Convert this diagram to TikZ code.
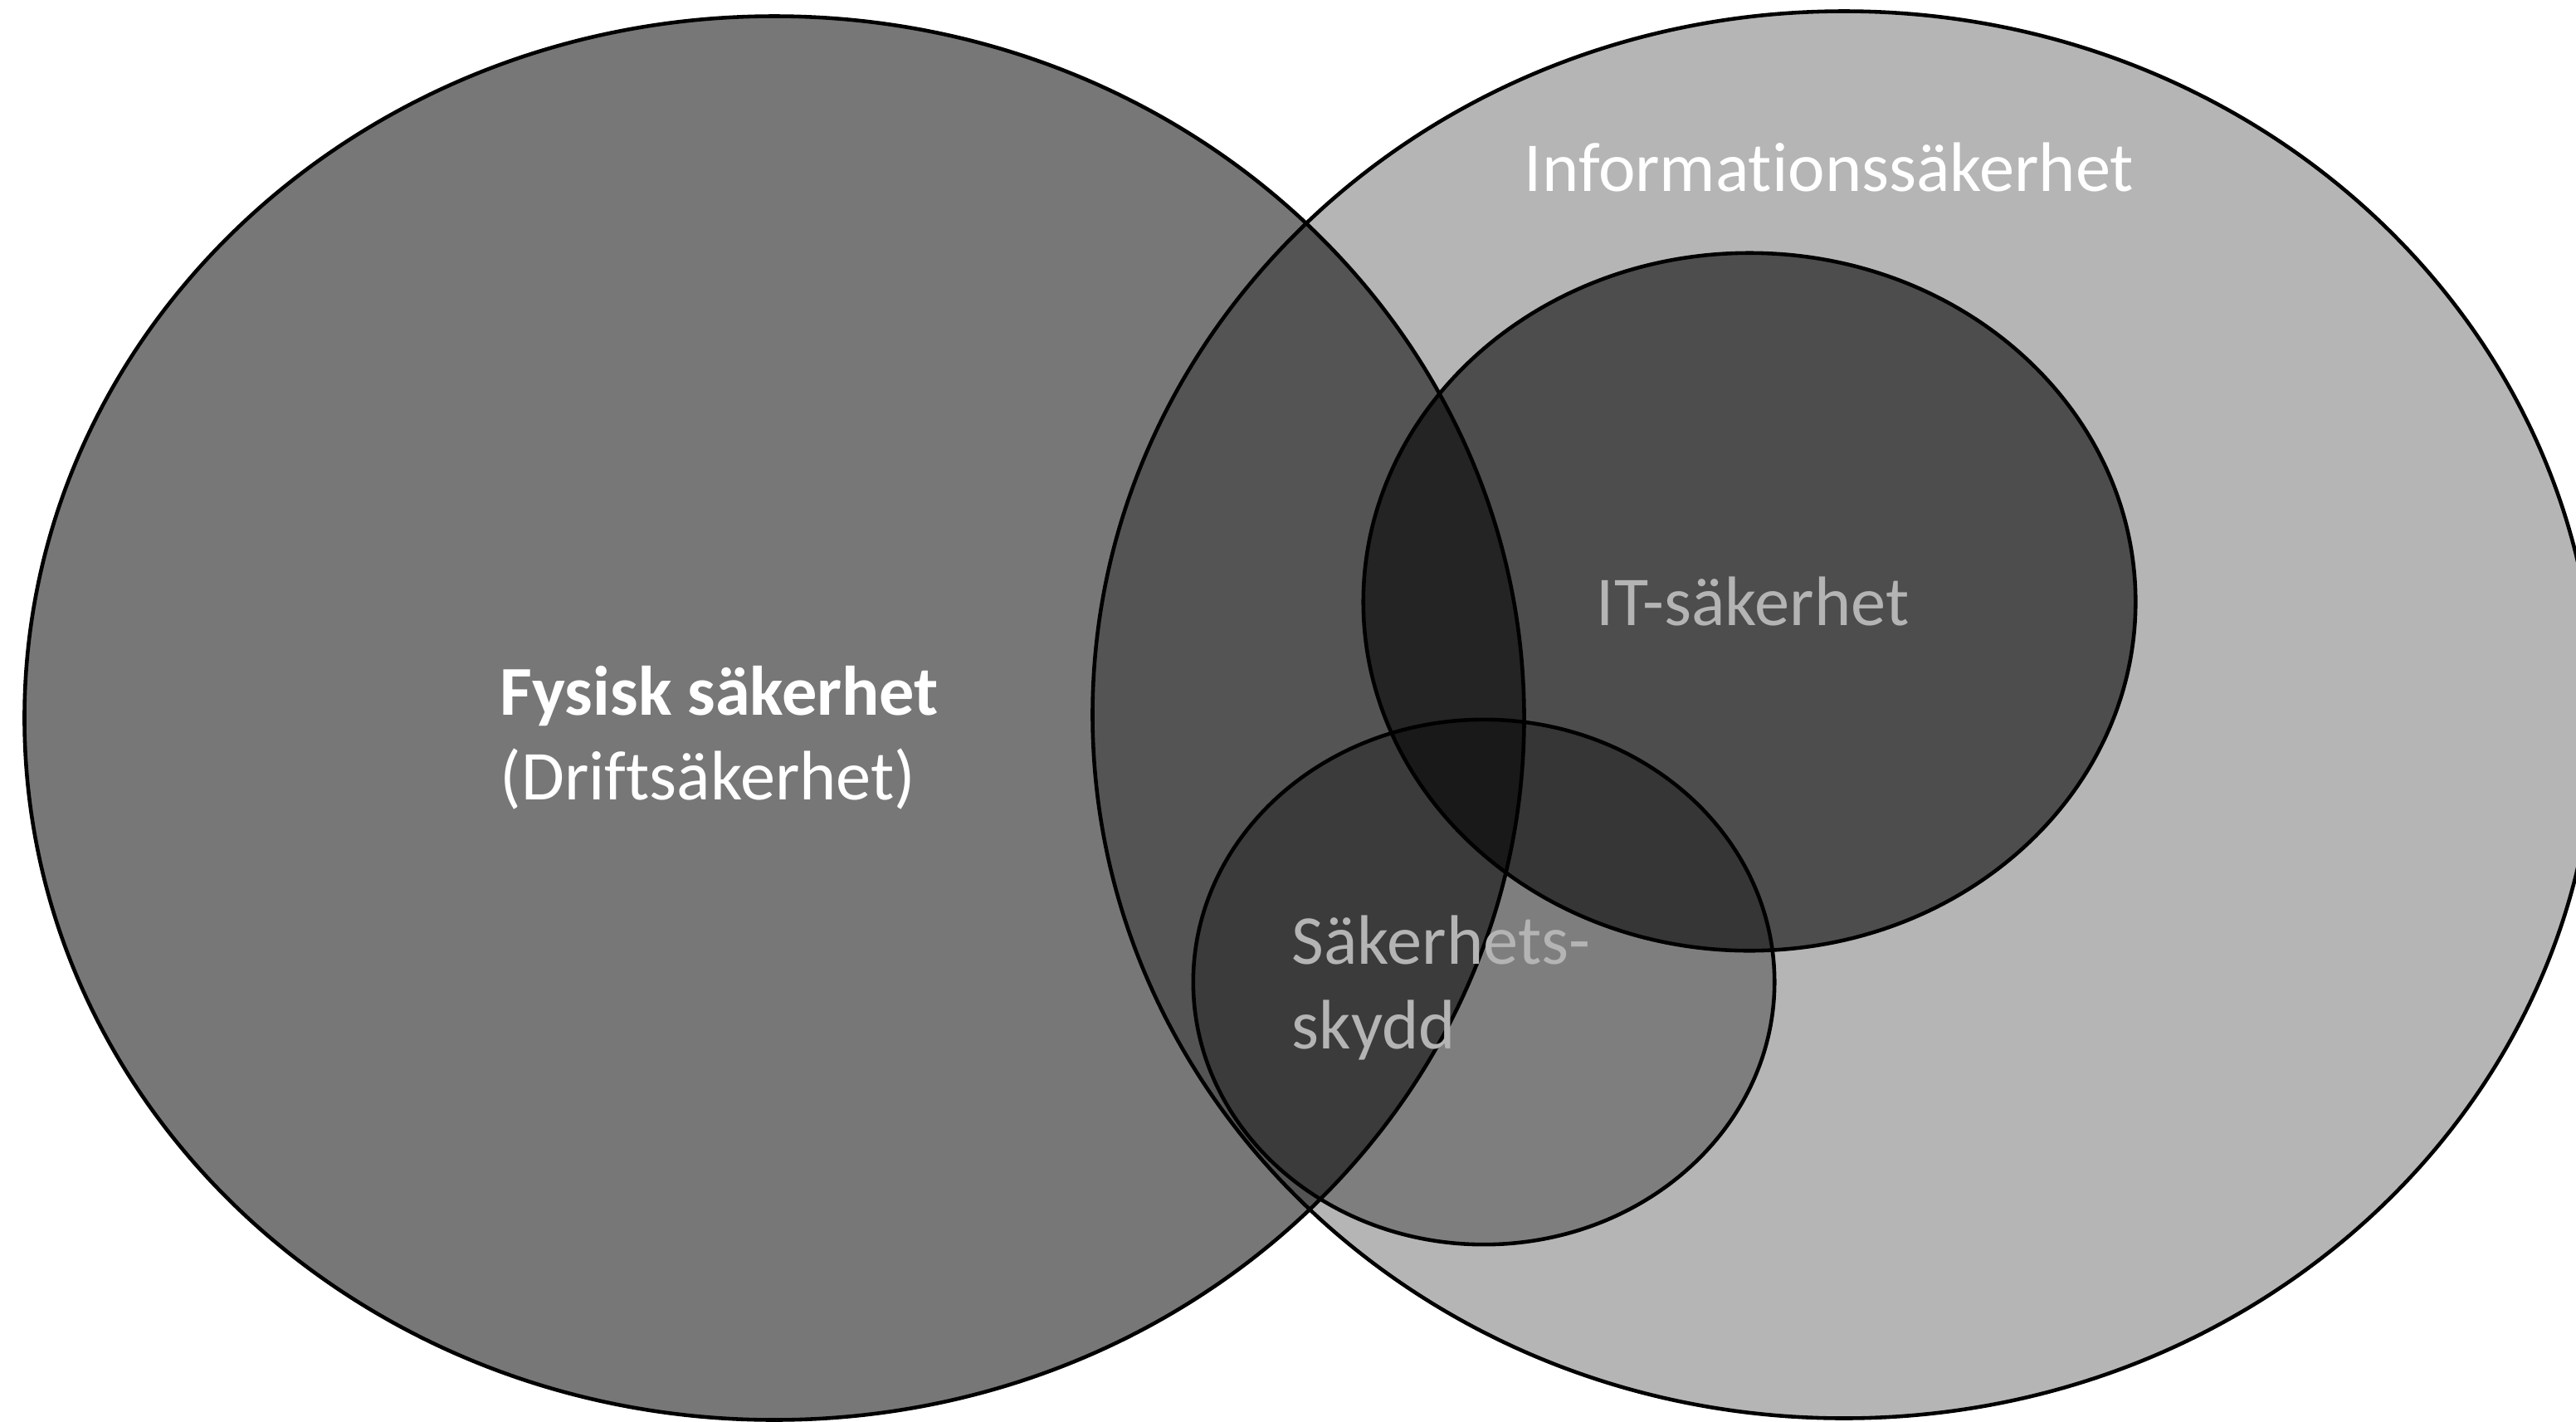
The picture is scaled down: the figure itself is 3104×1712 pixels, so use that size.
\documentclass[tikz,border=0pt]{standalone}
\usepackage{fontspec}
\setmainfont{Carlito}[RawFeature={-liga;-clig;-calt;-dlig}]
\usetikzlibrary{shapes.geometric}
\definecolor{labelgray}{RGB}{180,180,180}
\tikzset{
  venn/.style={ellipse, draw=black, line width=1.3pt, fill=black, inner sep=0pt},
  lbl/.style={inner sep=0pt, font=\fontsize{24pt}{29pt}\selectfont}
}
\begin{document}
\begin{tikzpicture}[x=0.01cm, y=-0.01cm]
\useasboundingbox (0,0) rectangle (3104,1712);
\node[venn, fill opacity=0.533, minimum width=18.06cm, minimum height=16.90cm] (fys) at (933,865) {};
\node[venn, fill opacity=0.29, minimum width=18.10cm, minimum height=16.94cm] (info) at (2222,861) {};
\node[venn, fill opacity=0.575, minimum width=9.30cm, minimum height=8.40cm] (it) at (2108,725) {};
\node[venn, fill opacity=0.30, minimum width=7.00cm, minimum height=6.32cm] (skydd) at (1788,1183) {};
\node[lbl, text=white, anchor=base] (tinfo) at (2204,230) {Informationssäkerhet};
\node[lbl, text=white, anchor=base west, align=left] (tfys) at (602,963) {\textbf{Fysisk säkerhet}\\(Driftsäkerhet)};
\node[lbl, text=labelgray, anchor=base] (tit) at (2112,753) {IT-säkerhet};
\node[lbl, text=labelgray, anchor=base west, align=left] (tskydd) at (1556,1263) {Säkerhets-\\skydd};
\end{tikzpicture}
\end{document}
